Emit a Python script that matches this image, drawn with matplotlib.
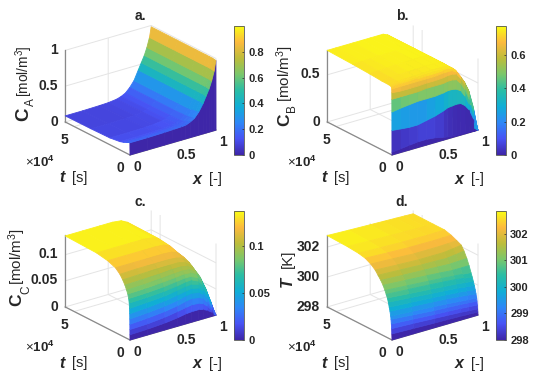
import numpy as np
import matplotlib
matplotlib.use('Agg')
import matplotlib.pyplot as plt
from matplotlib.colors import LinearSegmentedColormap, Normalize
from matplotlib.cm import ScalarMappable
from mpl_toolkits.mplot3d import proj3d

plt.rcParams['font.family'] = ['Liberation Sans', 'DejaVu Sans']
plt.rcParams['mathtext.fontset'] = 'custom'
plt.rcParams['mathtext.rm'] = 'Liberation Sans'
plt.rcParams['mathtext.bf'] = 'Liberation Sans:bold'
plt.rcParams['mathtext.it'] = 'Liberation Sans:italic'
plt.rcParams['mathtext.bfit'] = 'Liberation Sans:italic:bold'

parula = LinearSegmentedColormap.from_list('parula', [
    (0.2422, 0.1504, 0.6603), (0.2810, 0.3228, 0.9579), (0.1786, 0.5289, 0.9682),
    (0.0600, 0.6800, 0.8400), (0.1600, 0.7400, 0.6500), (0.4800, 0.7800, 0.4200),
    (0.7400, 0.7400, 0.2300), (0.9900, 0.7300, 0.2400), (0.9769, 0.9839, 0.0805)])

# ---- panel a: C_A
x_a = [0, .2, .4, .5, .6, .65, .7, .75, .8, .85, .885, .92, .95, .98, 1]
t_a = [0, 100, 1500, 3000, 6000, 9000, 18000, 35000, 58000]
z_a = [
 [0]*15,
 [.17, .17, .175, .18, .185, .19, .215, .25, .32, .42, .51, .60, .70, .83, .97],
 [.165, .165, .17, .175, .18, .185, .205, .245, .315, .425, .515, .605, .705, .835, .975],
 [.15, .15, .155, .16, .165, .17, .195, .24, .31, .43, .52, .61, .71, .84, .98],
 [.13, .13, .135, .14, .15, .155, .18, .23, .305, .43, .52, .61, .71, .84, .98],
 [.115, .115, .12, .125, .135, .145, .17, .225, .30, .43, .52, .61, .71, .84, .98],
 [.095, .095, .10, .105, .12, .135, .165, .22, .30, .43, .52, .61, .71, .84, .98],
 [.088, .088, .092, .098, .113, .132, .16, .22, .30, .43, .52, .61, .71, .84, .98],
 [.085, .085, .09, .095, .11, .13, .16, .22, .30, .43, .52, .61, .71, .84, .98],
]
# ---- panel b: C_B
x_b = [0, .1, .2, .3, .4, .5, .6, .65, .7, .75, .8, .85, .9, .95, 1]
t_b = [0, 30, 60, 100, 150, 200, 260, 350, 1200, 3000, 9000, 20000, 35000, 58000]
z_b = [
 [0]*15,
 [.03, .04, .05, .06, .06, .05, .03, .02, .015, .01, .01, .008, .005, .002, 0],
 [.26, .25, .24, .24, .26, .28, .31, .33, .335, .34, .335, .30, .24, .13, 0],
 [.455, .47, .48, .49, .49, .49, .50, .51, .51, .50, .47, .40, .30, .16, 0],
 [.59, .59, .59, .59, .60, .60, .60, .61, .61, .60, .55, .47, .35, .19, 0],
 [.66, .65, .65, .65, .655, .655, .66, .67, .67, .66, .60, .51, .38, .21, 0],
 [.70, .70, .70, .70, .70, .70, .71, .71, .71, .68, .61, .53, .41, .23, 0],
 [.715, .72, .72, .725, .73, .73, .735, .735, .72, .69, .62, .54, .43, .25, 0],
 [.725, .73, .73, .735, .74, .74, .74, .74, .73, .695, .62, .55, .45, .26, 0],
 [.728, .735, .74, .74, .745, .75, .75, .75, .735, .70, .62, .55, .46, .27, 0],
 [.73, .74, .745, .75, .75, .755, .755, .755, .74, .70, .62, .56, .46, .28, 0],
 [.74, .745, .75, .755, .755, .76, .76, .76, .74, .70, .62, .56, .46, .28, 0],
 [.75, .755, .755, .76, .76, .76, .76, .76, .74, .70, .62, .56, .46, .28, 0],
 [.76, .76, .76, .76, .76, .76, .76, .76, .74, .70, .62, .56, .46, .28, 0],
]
# ---- panel c: C_C
x_c = [0, .2, .4, .55, .65, .72, .8, .85, .9, .95, 1]
t_c = [0, 40, 80, 130, 190, 260, 400, 700, 1200, 2000, 3000, 4500, 6500, 9000, 13000, 20000, 30000, 58000]
z_c = [
 [0]*11,
 [.010, .011, .013, .016, .019, .020, .020, .018, .014, .008, 0],
 [.020, .021, .024, .028, .031, .033, .032, .029, .022, .012, 0],
 [.030, .032, .035, .039, .043, .045, .043, .039, .030, .016, 0],
 [.040, .042, .045, .049, .053, .055, .053, .047, .036, .019, 0],
 [.050, .052, .055, .059, .062, .064, .061, .054, .041, .022, 0],
 [.060, .062, .064, .068, .071, .072, .068, .060, .045, .024, 0],
 [.070, .071, .073, .076, .079, .080, .074, .065, .049, .026, 0],
 [.078, .079, .081, .084, .086, .086, .080, .070, .052, .028, 0],
 [.086, .087, .089, .091, .093, .092, .085, .074, .055, .029, 0],
 [.092, .093, .095, .097, .098, .097, .089, .077, .057, .030, 0],
 [.100, .101, .102, .104, .104, .102, .093, .080, .059, .031, 0],
 [.108, .109, .110, .110, .110, .107, .097, .083, .061, .032, 0],
 [.116, .117, .117, .117, .116, .113, .101, .085, .062, .032, 0],
 [.124, .124, .124, .124, .123, .119, .105, .088, .064, .033, 0],
 [.130, .130, .130, .130, .129, .124, .108, .090, .065, .034, 0],
 [.134, .134, .134, .134, .132, .127, .109, .090, .066, .034, 0],
 [.136, .136, .136, .136, .134, .128, .109, .090, .066, .034, 0],
]
# ---- panel d: T
x_d = [0, .25, .5, .65, .8, .9, 1]
t_d = [0, 170, 350, 600, 900, 1200, 1800, 2500, 3300, 4200, 5200, 6300, 8000, 10000,
       12500, 15000, 19000, 24000, 30000, 40000, 58000]
z_d = [
 [298]*7,
 [298.4, 298.35, 298.3, 298.28, 298.25, 298.22, 298.2],
 [298.75, 298.68, 298.6, 298.55, 298.5, 298.45, 298.4],
 [299.05, 298.95, 298.85, 298.8, 298.75, 298.7, 298.65],
 [299.35, 299.22, 299.1, 299.05, 299.0, 298.95, 298.9],
 [299.55, 299.45, 299.35, 299.28, 299.2, 299.15, 299.1],
 [299.85, 299.75, 299.65, 299.58, 299.5, 299.42, 299.35],
 [300.1, 300.0, 299.9, 299.82, 299.75, 299.68, 299.6],
 [300.4, 300.28, 300.15, 300.08, 300.0, 299.92, 299.85],
 [300.65, 300.52, 300.4, 300.32, 300.25, 300.18, 300.1],
 [300.85, 300.75, 300.65, 300.58, 300.5, 300.42, 300.35],
 [301.07, 300.96, 300.85, 300.78, 300.7, 300.65, 300.6],
 [301.35, 301.25, 301.15, 301.08, 301.0, 301.0, 301.0],
 [301.6, 301.52, 301.45, 301.4, 301.35, 301.38, 301.4],
 [301.85, 301.78, 301.7, 301.68, 301.65, 301.72, 301.8],
 [302.1, 302.02, 301.95, 301.95, 301.95, 302.02, 302.1],
 [302.35, 302.28, 302.2, 302.2, 302.2, 302.22, 302.25],
 [302.55, 302.48, 302.42, 302.41, 302.4, 302.41, 302.42],
 [302.65, 302.6, 302.55, 302.54, 302.52, 302.53, 302.55],
 [302.72, 302.67, 302.62, 302.6, 302.58, 302.56, 302.55],
 [302.77, 302.71, 302.66, 302.63, 302.6, 302.58, 302.56],
]

W, H = 550, 374
fig = plt.figure(figsize=(W/100, H/100), dpi=100)
GREY = '#8a8a8a'
TXT = '#262626'

panels = [
 dict(x=x_a, t=t_a, z=z_a, zlim=(0, 1.0), clim=(0, 1.0), zticks=[0, .5, 1], zlab=['0', '0.5', '1'],
      cticks=[0, .2, .4, .6, .8], clab=['0', '0.2', '0.4', '0.6', '0.8'], dx=0, dy=0, title='a.',
      zl=[('C', 13.5, 'bold', 24, 114), ('A', 8.5, 'normal', 30.5, 102.5), ('[mol/m$^3$]', 9.8, 'normal', 24, 71)]),
 dict(x=x_b, t=t_b, z=z_b, zlim=(0, .76), clim=(0, .774), zticks=[0, .5], zlab=['0', '0.5'],
      cticks=[0, .2, .4, .6], clab=['0', '0.2', '0.4', '0.6'], dx=262, dy=0, title='b.',
      zl=[('C', 12.5, 'bold', 285, 120), ('B', 8.5, 'normal', 292, 108.5), ('[mol/m$^3$]', 10.8, 'normal', 285, 74)]),
 dict(x=x_c, t=t_c, z=z_c, zlim=(0, .137), clim=(0, .137), zticks=[0, .05, .1], zlab=['0', '0.05', '0.1'],
      cticks=[0, .05, .1], clab=['0', '0.05', '0.1'], dx=0, dy=185, title='c.',
      zl=[('C', 12.5, 'bold', 17, 300), ('C', 8.5, 'normal', 26, 290), ('[mol/m$^3$]', 10.8, 'normal', 17, 257)]),
 dict(x=x_d, t=t_d, z=z_d, zlim=(298, 302.78), clim=(298, 302.85), zticks=[298, 300, 302], zlab=['298', '300', '302'],
      cticks=[298, 299, 300, 301, 302], clab=['298', '299', '300', '301', '302'], dx=262, dy=185, title='d.',
      zl=[('$\\mathbfit{T}$', 12, 'bold', 288, 282), ('[K]', 10.8, 'normal', 288, 259)]),
]

def px(x, y):
    return x / W, 1 - y / H

for p in panels:
    dx, dy = p['dx'], p['dy']
    L, T, S = 30 + dx, 10 + dy, 200.0
    ax = fig.add_axes([L / W, 1 - (T + S) / H, S / W, S / H], projection='3d')
    ax.set_proj_type('ortho')
    ax.view_init(elev=22.6, azim=-127)
    ax.set_xlim(0, 1, view_margin=0)
    ax.set_ylim(0, 58000, view_margin=0)
    ax.set_zlim(*p['zlim'], view_margin=0)
    ax.set_box_aspect((1, 1, 0.72))
    ax.patch.set_alpha(0)

    X, Y = np.meshgrid(p['x'], p['t'])
    Z = np.array(p['z'], dtype=float)
    norm = Normalize(*p['clim'])
    ax.plot_surface(X, Y, Z, facecolors=parula(norm(Z)), rstride=1, cstride=1,
                    shade=False, linewidth=0.6, antialiased=True)

    ax.set_xticks([0, .5, 1]); ax.set_xticklabels(['0', '0.5', '1'])
    ax.set_yticks([0, 50000]); ax.set_yticklabels(['0', '5'])
    ax.set_zticks(p['zticks']); ax.set_zticklabels(p['zlab'])
    for a, ha in ((ax.xaxis, 'left'), (ax.yaxis, 'right'), (ax.zaxis, 'right')):
        a.set_pane_color((1, 1, 1, 0))
        a.pane.set_edgecolor((1, 1, 1, 0))
        a.line.set_color(GREY)
        a.line.set_linewidth(0.9)
        a._axinfo['grid'].update(color='#e4e4e4', linewidth=0.7)
        a._axinfo['tick'].update(inward_factor=0.0, outward_factor=0.0)
        for lab in a.get_ticklabels():
            lab.set_fontweight('bold')
            lab.set_fontsize(10)
            lab.set_color(TXT)
            lab.set_ha(ha)
    for lab in ax.zaxis.get_ticklabels():
        lab.set_va('center')
    ax.tick_params(axis='x', pad=-5)
    ax.tick_params(axis='y', pad=-4)
    ax.tick_params(axis='z', pad=-5)

    # place the box: front corner, right corner at their pixel positions
    tf = (130.0 + dx, 155.0 + dy)
    tr = (216.0 + dx, 130.0 + dy)
    for _ in range(3):
        ax.apply_aspect()
        M = ax.get_proj()
        def proj(a, b, c):
            u, v, _w = proj3d.proj_transform(a, b, c, M)
            d = ax.transData.transform((u, v))
            return d[0], H - d[1]
        f = proj(0, 0, p['zlim'][0])
        r = proj(1, 0, p['zlim'][0])
        s = (tr[0] - tf[0]) / (r[0] - f[0])
        S *= s
        ax.set_position([L / W, 1 - (T + S) / H, S / W, S / H])
        ax.apply_aspect()
        M = ax.get_proj()
        f = proj(0, 0, p['zlim'][0])
        L += tf[0] - f[0]
        T += tf[1] - f[1]
        ax.set_position([L / W, 1 - (T + S) / H, S / W, S / H])

    # colour bar
    cax = fig.add_axes([(234 + dx) / W, 1 - (155 + dy) / H, 10 / W, 129 / H])
    cb = fig.colorbar(ScalarMappable(norm=norm, cmap=parula), cax=cax)
    cb.set_ticks(p['cticks']); cb.set_ticklabels(p['clab'])
    cb.ax.tick_params(length=1.5, width=0.5, direction='in', labelsize=8, pad=3, colors=TXT)
    for lab in cb.ax.get_yticklabels():
        lab.set_fontweight('bold')
    cb.outline.set_linewidth(0.6)
    cb.outline.set_edgecolor('#555555')

    # texts
    fig.text(*px(140 + dx, 16.5 + dy), p['title'], fontsize=10, fontweight='bold', ha='center', va='center', color=TXT)
    for s_, fs_, w_, x_, y_ in p['zl']:
        fig.text(*px(x_, y_), s_, fontsize=fs_, fontweight=w_, rotation=90, ha='center', va='center', color=TXT)
    fig.text(*px(62 + dx, 178 + dy), 't', fontsize=11.5, fontweight='bold', style='italic', ha='center', va='center', color=TXT)
    fig.text(*px(80 + dx, 178 + dy), '[s]', fontsize=10.5, ha='center', va='center', color=TXT)
    fig.text(*px(197 + dx, 179 + dy), 'x', fontsize=11.5, fontweight='bold', style='italic', ha='center', va='center', color=TXT)
    fig.text(*px(215 + dx, 179 + dy), '[-]', fontsize=10.5, ha='center', va='center', color=TXT)
    fig.text(*px(40 + dx, 162 + dy), r'$\times\mathbf{10}^{\mathbf{4}}$', fontsize=9.5, ha='center', va='center', color=TXT)

fig.savefig('out.png', dpi=100)
